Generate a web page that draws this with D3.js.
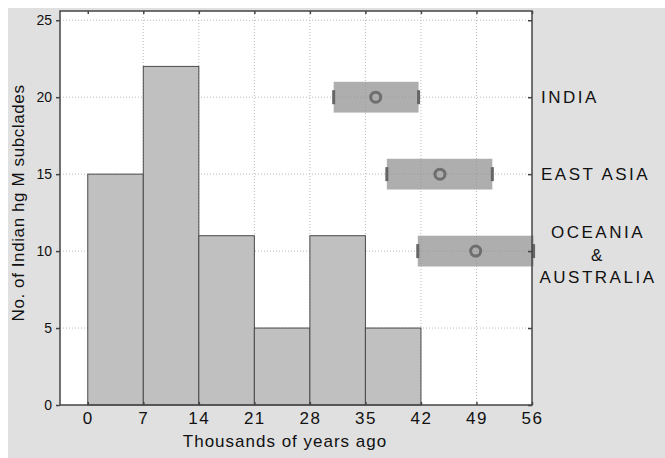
<!DOCTYPE html>
<html>
<head>
<meta charset="utf-8">
<script src="https://d3js.org/d3.v7.min.js"></script>
<style>
  body { margin: 0; background: #fff; }
  svg text { font-family: "Liberation Sans", Arial, sans-serif; fill: #111; }
</style>
</head>
<body>
<div id="chart"></div>
<script>
// histogram bins (thousands of years ago) and counts
let binStarts = [0, 7, 14, 21, 28, 35];
let binWidth = 7;
let counts = [15, 22, 11, 5, 11, 5];

// regional ranges: mean and interval
let regions = ["INDIA", "EAST ASIA", "OCEANIA & AUSTRALIA"];
let regionY = [20, 15, 10];
let regionLow = [31.0, 37.7, 41.6];
let regionMean = [36.3, 44.4, 48.9];
let regionHigh = [41.7, 51.0, 56.2];

let xTicks = [0, 7, 14, 21, 28, 35, 42, 49, 56];
let yTicks = [0, 5, 10, 15, 20, 25];

let W = 665, H = 458;
let margin = { top: 11, right: 133, bottom: 53, left: 60 };
let width = W - margin.left - margin.right,
    height = H - margin.top - margin.bottom;

let svg = d3.select("#chart").append("svg")
  .attr("width", W).attr("height", H);

// gray figure background
svg.append("rect").attr("x", 8).attr("y", 8)
  .attr("width", W - 8).attr("height", H - 8).attr("fill", "#e0e0e0");

let g = svg.append("g").attr("transform", "translate(" + margin.left + "," + margin.top + ")");

let x = d3.scaleLinear().domain([-3.5, 56]).range([0, width]);
let y = d3.scaleLinear().domain([0, 25.6]).range([height, 0]);

g.append("rect").attr("width", width).attr("height", height).attr("fill", "#fff");

// dotted grid
g.append("g").selectAll("line").data(xTicks.filter(d => d > 0 && d < 56)).enter().append("line")
  .attr("x1", d => x(d)).attr("x2", d => x(d)).attr("y1", 0).attr("y2", height)
  .attr("stroke", "#bbb").attr("stroke-dasharray", "1,2");
g.append("g").selectAll("line").data(yTicks.filter(d => d > 0)).enter().append("line")
  .attr("x1", 0).attr("x2", width).attr("y1", d => y(d)).attr("y2", d => y(d))
  .attr("stroke", "#bbb").attr("stroke-dasharray", "1,2");

// histogram bars
g.append("g").selectAll("rect").data(counts).enter().append("rect")
  .attr("x", (d, i) => x(binStarts[i]))
  .attr("width", x(binWidth) - x(0))
  .attr("y", d => y(d))
  .attr("height", d => height - y(d))
  .attr("fill", "#c0c0c0").attr("stroke", "#4a4a4a").attr("stroke-width", 1);

// range boxes
let rg = g.append("g");
regions.forEach(function (r, i) {
  let cy = y(regionY[i]);
  let halfH = (y(0) - y(1));
  rg.append("rect")
    .attr("x", x(regionLow[i])).attr("width", x(regionHigh[i]) - x(regionLow[i]))
    .attr("y", cy - halfH).attr("height", 2 * halfH)
    .attr("fill", "#8f8f8f").attr("fill-opacity", 0.72);
  [regionLow[i], regionHigh[i]].forEach(function (v) {
    rg.append("line").attr("x1", x(v)).attr("x2", x(v))
      .attr("y1", cy - 7).attr("y2", cy + 7)
      .attr("stroke", "#666").attr("stroke-width", 3);
  });
  rg.append("circle").attr("cx", x(regionMean[i])).attr("cy", cy).attr("r", 5)
    .attr("fill", "none").attr("stroke", "#6e6e6e").attr("stroke-width", 3);
});

// frame
g.append("rect").attr("width", width).attr("height", height)
  .attr("fill", "none").attr("stroke", "#444").attr("stroke-width", 1.5);

// axes
let xAxis = g.append("g").attr("transform", "translate(0," + height + ")")
  .call(d3.axisBottom(x).tickValues(xTicks).tickSize(-3).tickPadding(7));
let yAxis = g.append("g")
  .call(d3.axisLeft(y).tickValues(yTicks).tickSize(4).tickPadding(4));
g.append("g").call(d3.axisTop(x).tickValues(xTicks).tickSize(-3).tickFormat(""));
g.append("g").attr("transform", "translate(" + width + ",0)")
  .call(d3.axisRight(y).tickValues(yTicks).tickSize(-4).tickFormat(""));

g.selectAll(".domain").remove();
g.selectAll(".tick line").attr("stroke", "#444").attr("stroke-width", 1.5);
xAxis.selectAll("text").attr("font-size", 17).style("font-family", "Liberation Sans, Arial, sans-serif").attr("letter-spacing", "1.5px");
yAxis.selectAll("text").attr("font-size", 14).style("font-family", "Liberation Sans, Arial, sans-serif");

// region labels on the right
let lx = margin.left + width + 9;
let lab = svg.append("g").attr("font-size", 17).attr("letter-spacing", "2.5px");
lab.append("text").attr("x", lx).attr("y", margin.top + y(20) + 6).text("INDIA");
lab.append("text").attr("x", lx).attr("y", margin.top + y(15) + 6).text("EAST ASIA");
let cx3 = 598;
lab.append("text").attr("x", cx3).attr("y", margin.top + y(10) - 13).attr("text-anchor", "middle").text("OCEANIA");
lab.append("text").attr("x", cx3).attr("y", margin.top + y(10) + 10).attr("text-anchor", "middle").text("&");
lab.append("text").attr("x", cx3).attr("y", margin.top + y(10) + 32).attr("text-anchor", "middle").text("AUSTRALIA");

// axis titles
svg.append("text").attr("x", 285).attr("y", 447).attr("text-anchor", "middle")
  .attr("font-size", 17).attr("letter-spacing", "1px").text("Thousands of years ago");
svg.append("text").attr("transform", "translate(24,203) rotate(-90)").attr("text-anchor", "middle")
  .attr("font-size", 17).attr("letter-spacing", "0.6px").text("No. of Indian hg M subclades");
</script>
</body>
</html>
